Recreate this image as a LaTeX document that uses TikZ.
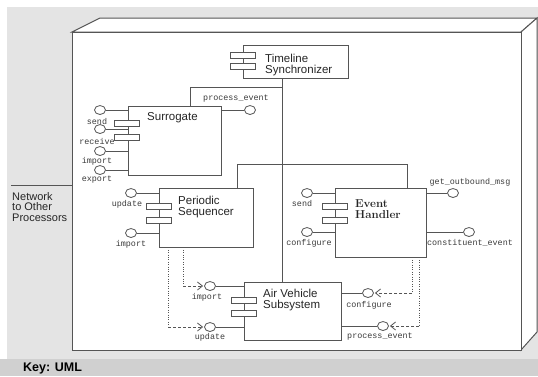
\documentclass[tikz,border=0pt]{standalone}
\usepackage{fontspec}
\setsansfont{Liberation Sans}
\setmonofont{Liberation Mono}
\usepackage{tikz}
\usetikzlibrary{calc, positioning, arrows.meta, shapes.geometric}
\usepackage{xcolor}
\definecolor{lineGray}{RGB}{85, 85, 85}
\definecolor{textGray}{RGB}{60, 60, 60}
\definecolor{backGray}{RGB}{228, 228, 228}
\definecolor{keyGray}{RGB}{208, 208, 208}

\tikzset{
  comp/.style={draw=lineGray, fill=white, line width=0.8pt, inner sep=0pt},
  tab/.style={draw=lineGray, fill=white, line width=0.8pt, inner sep=0pt,
              minimum width=25pt, minimum height=6pt},
  port/.style={ellipse, draw=lineGray, fill=white, line width=0.8pt, inner sep=0pt,
               minimum width=11pt, minimum height=9pt},
  wire/.style={draw=lineGray, line width=0.8pt},
  frame/.style={draw=lineGray, line width=1pt},
  lbl/.style={font=\ttfamily\fontsize{8.4}{9}\selectfont, text=textGray, inner sep=0pt},
  title/.style={font=\sffamily\fontsize{11.5}{11}\selectfont, align=left,
                anchor=north west, inner sep=0pt, text=black!85},
  dots/.style={draw=lineGray, line width=0.9pt, dash pattern=on 1pt off 1.4pt},
  dep/.style={draw=lineGray, line width=0.8pt, dash pattern=on 3pt off 2pt,
              -{Straight Barb[length=5pt, width=8pt]}, shorten >=1pt}
}

\begin{document}
\begin{tikzpicture}[x=1pt, y=-1pt]
  \useasboundingbox (0,0) rectangle (538,376);

  % Background and key
  \fill[backGray] (7,7) rectangle (538,359);
  \fill[keyGray] (0,359) rectangle (538,376);
  \node[anchor=west, inner sep=0pt, font=\sffamily\bfseries\fontsize{12.5}{14}\selectfont]
    (key) at (23,368) {Key: UML};

  % Processor node (3D box)
  \draw[frame, fill=white] (72,32) -- (100,18) -- (537,18) -- (521,32) -- cycle;
  \draw[frame, fill=white] (521,32) -- (537,18) -- (537,332) -- (521,350) -- cycle;
  \node[frame, fill=white, inner sep=0pt, minimum width=449pt, minimum height=318pt]
    (proc) at (296.5,191) {};

  % Network
  \coordinate (net) at (11,185);
  \draw[frame] (net) -- (net -| proc.west);
  \node[title, font=\sffamily\fontsize{11}{10.6}\selectfont] (netlbl) at (12,192)
    {Network\\to Other\\Processors};

  % Timeline Synchronizer
  \node[comp, minimum width=105pt, minimum height=33pt] (ts) at (295.5,61.5) {};
  \node[tab] (ts-t1) at (242.5,55.5) {};
  \node[tab] (ts-t2) at (242.5,66) {};
  \node[title] (ts-lbl) at (265,53.5) {Timeline\\Synchronizer};

  % Surrogate
  \node[comp, minimum width=93pt, minimum height=69pt] (sur) at (174.5,140.5) {};
  \node[tab] (sur-t1) at (126.5,123) {};
  \node[tab] (sur-t2) at (126.5,137) {};
  \node[title] (sur-lbl) at (147,112.5) {Surrogate};
  \node[port] (sur-send) at (100,110) {};
  \node[port] (sur-recv) at (100,129) {};
  \node[port] (sur-imp) at (100,151) {};
  \node[port] (sur-exp) at (100,170) {};
  \node[port] (sur-pe) at (250,110) {};
  \node[lbl] at (97,122) {send};
  \node[lbl] at (97,141) {receive};
  \node[lbl] at (97,161) {import};
  \node[lbl] at (97,180) {export};
  \node[lbl] at (236,99) {process\_event};
  \draw[wire] (sur-send) -- (sur-send -| sur.west);
  \draw[wire] (sur-recv) -- (sur-recv -| sur.west);
  \draw[wire] (sur-imp) -- (sur-imp -| sur.west);
  \draw[wire] (sur-exp) -- (sur-exp -| sur.west);
  \draw[wire] (sur-pe) -- (sur-pe -| sur.east);

  % Periodic Sequencer
  \node[comp, minimum width=94pt, minimum height=59pt] (ps) at (206,217.5) {};
  \node[tab] (ps-t1) at (159,206) {};
  \node[tab] (ps-t2) at (159,220.5) {};
  \node[title, font=\sffamily\fontsize{11.5}{10.5}\selectfont] (ps-lbl) at (178,196)
    {Periodic\\Sequencer};
  \node[port] (ps-upd) at (131,193) {};
  \node[port] (ps-imp) at (131,233) {};
  \node[lbl] at (127,204) {update};
  \node[lbl] at (131,244) {import};
  \draw[wire] (ps-upd) -- (ps-upd -| ps.west);
  \draw[wire] (ps-imp) -- (ps-imp -| ps.west);

  % Event Handler
  \node[comp, minimum width=91pt, minimum height=69pt] (eh) at (380.5,222.5) {};
  \node[tab] (eh-t1) at (335,206) {};
  \node[tab] (eh-t2) at (335,220.5) {};
  \node[title, font=\rmfamily\bfseries\fontsize{11.5}{11}\selectfont] (eh-lbl) at (355,199.5)
    {Event\\Handler};
  \node[port] (eh-send) at (307,193) {};
  \node[port] (eh-conf) at (307,232) {};
  \node[port] (eh-out) at (453,193) {};
  \node[port] (eh-ce) at (469,232) {};
  \node[lbl] at (302,204) {send};
  \node[lbl] at (309,243) {configure};
  \node[lbl] at (470,182) {get\_outbound\_msg};
  \node[lbl] at (470,243) {constituent\_event};
  \draw[wire] (eh-send) -- (eh-send -| eh.west);
  \draw[wire] (eh-conf) -- (eh-conf -| eh.west);
  \draw[wire] (eh-out) -- (eh-out -| eh.east);
  \draw[wire] (eh-ce) -- (eh-ce -| eh.east);

  % Air Vehicle Subsystem
  \node[comp, minimum width=97pt, minimum height=58pt] (avs) at (292.5,311) {};
  \node[tab] (avs-t1) at (243.5,300) {};
  \node[tab] (avs-t2) at (243.5,313) {};
  \node[title, font=\sffamily\fontsize{11.5}{10.5}\selectfont] (avs-lbl) at (263,289)
    {Air Vehicle\\Subsystem};
  \node[port] (avs-imp) at (210,286) {};
  \node[port] (avs-upd) at (210,327) {};
  \node[port] (avs-conf) at (368,293) {};
  \node[port] (avs-pe) at (383,326) {};
  \node[lbl] at (207,297) {import};
  \node[lbl] at (210,337.5) {update};
  \node[lbl] at (369,305) {configure};
  \node[lbl] at (380,337) {process\_event};
  \draw[wire] (avs-imp) -- (avs-imp -| avs.west);
  \draw[wire] (avs-upd) -- (avs-upd -| avs.west);
  \draw[wire] (avs-conf) -- (avs-conf -| avs.east);
  \draw[wire] (avs-pe) -- (avs-pe -| avs.east);

  % Links
  \coordinate (bus) at (282,87);
  \draw[wire] (ts.south -| bus) -- (avs.north -| bus);
  \draw[wire] (sur.north -| 190,0) |- (bus);
  \draw[wire] (ps.north -| 237,0) -- (237,164) -| (eh.north -| 407,0);

  % Dependencies
  \coordinate (d1) at (183,286);
  \coordinate (d2) at (168,327);
  \coordinate (d3) at (412,293);
  \coordinate (d4) at (419,326);
  \draw[dots] (ps.south -| d1) -- (d1);
  \draw[dots] (ps.south -| d2) -- (d2);
  \draw[dots] (eh.south -| d3) -- (d3);
  \draw[dots] (eh.south -| d4) -- (d4);
  \draw[dep] (d1) -- (avs-imp);
  \draw[dep] (d2) -- (avs-upd);
  \draw[dep] (d3) -- (avs-conf);
  \draw[dep] (d4) -- (avs-pe);
\end{tikzpicture}
\end{document}
